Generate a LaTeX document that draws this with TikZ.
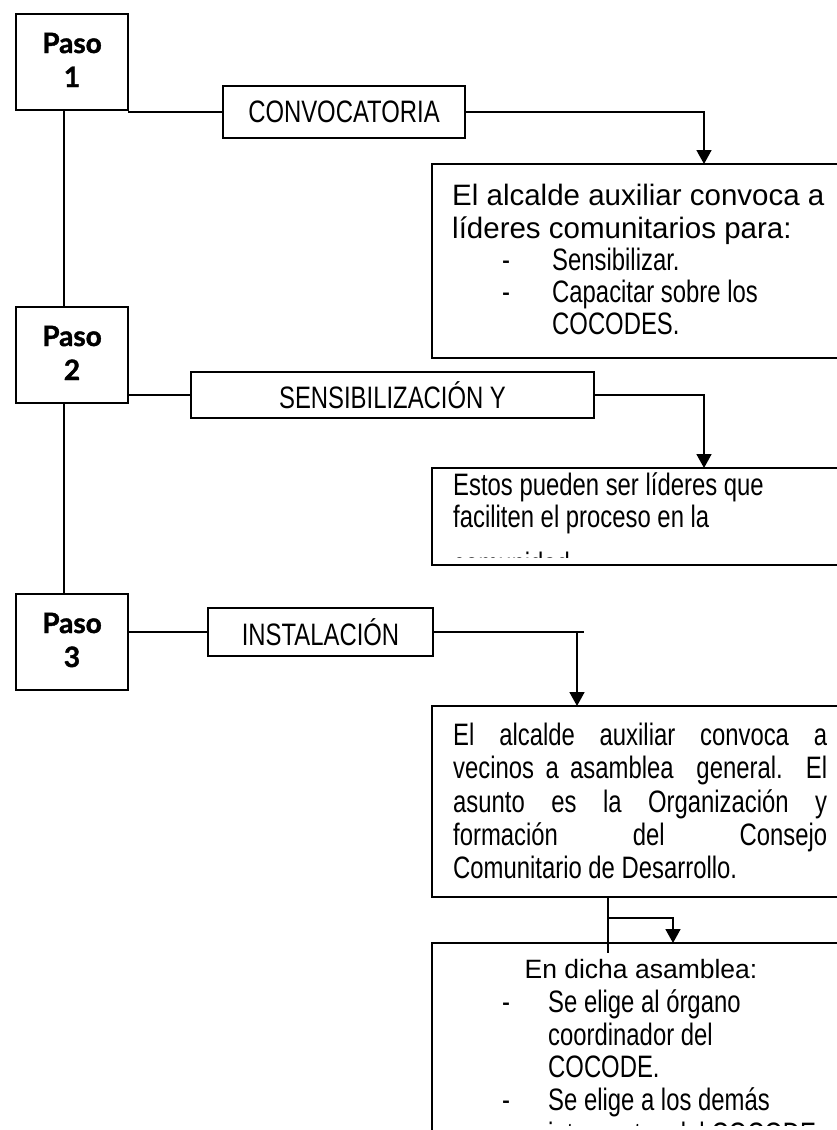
\documentclass[tikz,border=0pt]{standalone}
\usepackage{fontspec}
\setmainfont{Liberation Sans}
\newfontfamily\narrowfont{Liberation Sans}[FakeStretch=0.77]
\newfontfamily\pasofont{Lato}[BoldFeatures={FakeBold=1.5}]
\usetikzlibrary{arrows.meta}
\begin{document}
\begin{tikzpicture}[x=1pt,y=-1pt,
  box/.style={draw, line width=1.6pt, inner sep=0pt, outer sep=0pt, anchor=north west},
  conn/.style={line width=1.7pt},
  arr/.style={conn, -{Triangle[length=14pt,width=15pt]}},
  pasotxt/.style={anchor=base, inner sep=0pt, font=\pasofont\bfseries\fontsize{28}{28}\selectfont},
  lbl/.style={font=\narrowfont\fontsize{31}{33}\selectfont},
  txt/.style={anchor=base west, inner sep=0pt, font=\narrowfont\fontsize{31}{33}\selectfont},
  big/.style={anchor=base west, inner sep=0pt, font=\fontsize{29.5}{33}\selectfont}]
\useasboundingbox (0,0) rectangle (837,1130);
\fill[white] (0,0) rectangle (837,1130);
\clip (0,0) rectangle (837,1130);

% Paso boxes
\node[box, minimum width=112pt, minimum height=96pt] (paso1) at (16,14) {};
\node[box, minimum width=112pt, minimum height=96pt] (paso2) at (16,307) {};
\node[box, minimum width=112pt, minimum height=96pt] (paso3) at (16,594) {};
\node[pasotxt] (p1a) at (72,53) {Paso};
\node[pasotxt] (p1b) at (72,87) {1};
\node[pasotxt] (p2a) at (72,346) {Paso};
\node[pasotxt] (p2b) at (72,380) {2};
\node[pasotxt] (p3a) at (72,633) {Paso};
\node[pasotxt] (p3b) at (72,667) {3};

% label boxes
\node[box, minimum width=242pt, minimum height=52pt, lbl] (conv) at (223,86) {CONVOCATORIA};
\node[box, minimum width=403pt, minimum height=46pt, lbl] (sens) at (191,372) {SENSIBILIZACIÓN Y};
\node[box, minimum width=225pt, minimum height=48pt, lbl] (inst) at (208,608) {INSTALACIÓN};

% content boxes
\node[box, minimum width=420pt, minimum height=194pt] (box1) at (432,164) {};
\node[box, minimum width=420pt, minimum height=97pt] (box2) at (432,468) {};
\node[box, minimum width=420pt, minimum height=191pt] (box3) at (432,706) {};
\node[box, minimum width=420pt, minimum height=220pt] (box4) at (432,943) {};

% box 1 text
\node[big] (b1l1) at (452,205) {El alcalde auxiliar convoca a};
\node[big] (b1l2) at (452,238) {líderes comunitarios para:};
\node[txt] (b1d1) at (502,270) {-};
\node[txt] (b1l3) at (552,270) {Sensibilizar.};
\node[txt] (b1d2) at (502,302) {-};
\node[txt] (b1l4) at (552,302) {Capacitar sobre los};
\node[txt] (b1l5) at (552,334) {COCODES.};

% box 2 text
\node[txt] (b2l1) at (453,495) {Estos pueden ser líderes que};
\node[txt] (b2l2) at (453,527) {faciliten el proceso en la};
\begin{scope}
\clip (434,540) rectangle (836,557.5);
\node[txt] (b2l3) at (453,574) {comunidad.};
\end{scope}

% box 3 text
\node[txt] (b3l1) at (453,745) {\makebox[374pt][s]{El alcalde auxiliar convoca a}};
\node[txt] (b3l2) at (453,778) {\makebox[374pt][s]{vecinos a asamblea\ \ general. El}};
\node[txt] (b3l3) at (453,812) {\makebox[374pt][s]{asunto es la Organización y}};
\node[txt] (b3l4) at (453,845) {\makebox[374pt][s]{formación del Consejo}};
\node[txt] (b3l5) at (453,878) {Comunitario de Desarrollo.};

% box 4 text
\node[anchor=base, inner sep=0pt, font=\fontsize{26.5}{30}\selectfont] (b4h) at (641,978) {En dicha asamblea:};
\node[txt] (b4d1) at (502,1012) {-};
\node[txt] (b4l1) at (548,1012) {Se elige al órgano};
\node[txt] (b4l2) at (548,1045) {coordinador del};
\node[txt] (b4l3) at (548,1077) {COCODE.};
\node[txt] (b4d2) at (502,1110) {-};
\node[txt] (b4l4) at (548,1110) {Se elige a los demás};
\begin{scope}
\clip (434,1115) rectangle (836,1125);
\node[txt] (b4l5) at (548,1144) {integrantes del COCODE.};
\end{scope}

% coordinates for connector ends
\coordinate (t1) at (704,164);
\coordinate (t2) at (704,468);
\coordinate (e3) at (584,632);
\coordinate (k3) at (577,632);
\coordinate (t3) at (577,706);
\coordinate (jend) at (608,953);
\coordinate (jx) at (608,918);
\coordinate (t4) at (673,943);

% connectors
\draw[conn] ([xshift=-8pt]paso1.south) -- ([xshift=-8pt]paso2.north);
\draw[conn] ([xshift=-8pt]paso2.south) -- ([xshift=-8pt]paso3.north);
\draw[conn] (paso1.east |- conv.west) -- (conv.west);
\draw[conn] (paso2.east |- sens.west) -- (sens.west);
\draw[conn] (paso3.east |- inst.west) -- (inst.west);
\draw[arr] (conv.east) -| (t1);
\draw[arr] (sens.east) -| (t2);
\draw[conn] (inst.east) -- (e3);
\draw[arr] (k3) -- (t3);
\draw[conn] (box3.south -| jend) -- (jend);
\draw[arr] (jx) -| (t4);
\end{tikzpicture}
\end{document}
